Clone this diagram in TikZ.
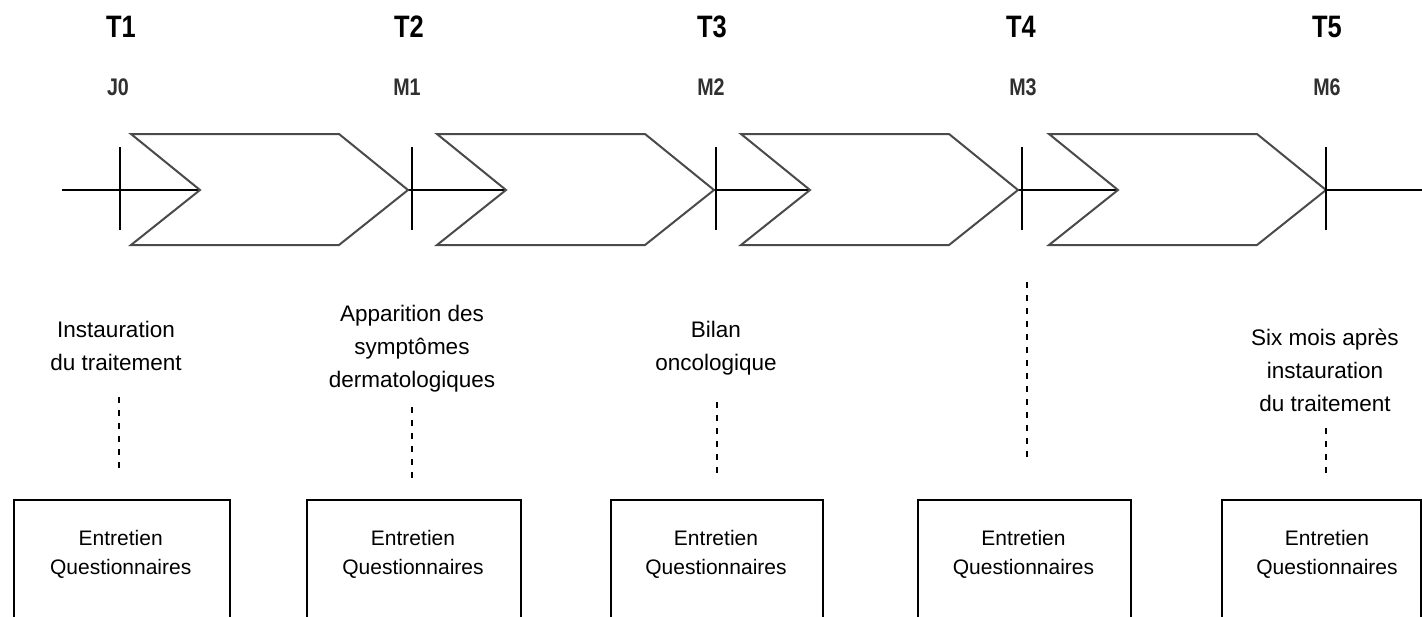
\documentclass[tikz,border=0pt]{standalone}
\usepackage{fontspec}
\setmainfont{Liberation Sans}
\usepackage{graphicx}
\definecolor{chevgray}{HTML}{4A4A4A}
\definecolor{mgray}{HTML}{303030}
\newcommand\nrw[1]{\scalebox{0.82}[1]{#1}}
\tikzset{
  mainline/.style={line width=1.3pt, draw=black},
  tickline/.style={line width=1.6pt, draw=black},
  chev/.style={draw=chevgray, line width=2pt, fill=white, line join=miter},
  chevron/.pic={\draw[chev] (0,-56) -- (208,-56) -- (277,0) -- (208,55) -- (0,55) -- (69,0) -- cycle;},
  tlabel/.style={font=\fontsize{31}{31}\selectfont\bfseries, anchor=base, inner sep=0pt},
  mlabel/.style={font=\fontsize{24}{24}\selectfont\bfseries, text=mgray, anchor=base, inner sep=0pt},
  desc/.style={font=\fontsize{22.5}{33}\selectfont, align=center, anchor=base, inner sep=0pt},
  qbox/.style={draw=black, line width=2pt, fill=white, anchor=north west, minimum height=140pt, inner sep=0pt},
  qtext/.style={font=\fontsize{21}{29}\selectfont, align=center, anchor=base, inner sep=0pt},
  dashl/.style={line width=2pt, dash pattern=on 6pt off 7pt}
}
\begin{document}
\begin{tikzpicture}[x=1pt,y=-1pt]
\useasboundingbox (0,0) rectangle (1422,616);
\clip (0,0) rectangle (1422,616);
\fill[white] (0,0) rectangle (1422,616);

% main time line
\coordinate (L) at (62,190);
\coordinate (R) at (1422,190);
\draw[mainline] (L) -- (R);

% chevrons
\pic at (131,190) {chevron};
\pic at (437,190) {chevron};
\pic at (741,190) {chevron};
\pic at (1049,190) {chevron};

% ticks
\foreach \x/\n in {120/1,412/2,716/3,1022/4,1326/5}{
  \coordinate (ta\n) at (\x,147);
  \coordinate (tb\n) at (\x,230);
  \draw[tickline] (ta\n) -- (tb\n);
}

% top labels
\node[tlabel] (T1) at (121,37) {\nrw{T1}};
\node[tlabel] (T2) at (409,37) {\nrw{T2}};
\node[tlabel] (T3) at (712,37) {\nrw{T3}};
\node[tlabel] (T4) at (1021,37) {\nrw{T4}};
\node[tlabel] (T5) at (1327,37) {\nrw{T5}};

\node[mlabel] (J0) at (118,95) {\nrw{J0}};
\node[mlabel] (M1) at (407,95) {\nrw{M1}};
\node[mlabel] (M2) at (711,95) {\nrw{M2}};
\node[mlabel] (M3) at (1023,95) {\nrw{M3}};
\node[mlabel] (M6) at (1327,95) {\nrw{M6}};

% descriptions (anchor = baseline of last line)
\node[desc] (d1) at (116,370) {Instauration\\du traitement};
\node[desc] (d2) at (412,387.5) {Apparition des\\symptômes\\dermatologiques};
\node[desc] (d3) at (716,370) {Bilan\\oncologique};
\node[desc] (d5) at (1325,411) {Six mois après\\instauration\\du traitement};

% dashed connectors
\coordinate (s1) at (119,397);  \coordinate (e1) at (119,473);
\coordinate (s2) at (412,407);  \coordinate (e2) at (412,483);
\coordinate (s3) at (716.5,402); \coordinate (e3) at (716.5,478);
\coordinate (s4) at (1026.5,282); \coordinate (e4) at (1026.5,457);
\coordinate (s5) at (1326,428); \coordinate (e5) at (1326,477);
\foreach \n in {1,...,5}{\draw[dashl] (s\n) -- (e\n);}

% boxes
\node[qbox, minimum width=216pt] (b1) at (12.7,498.5) {};
\node[qbox, minimum width=214pt] (b2) at (306,498.5) {};
\node[qbox, minimum width=212pt] (b3) at (610,498.5) {};
\node[qbox, minimum width=213pt] (b4) at (917,498.5) {};
\node[qbox, minimum width=199pt] (b5) at (1221,498.5) {};

\node[qtext] (q1) at (120.7,574) {Entretien\\Questionnaires};
\node[qtext] (q2) at (413,574) {Entretien\\Questionnaires};
\node[qtext] (q3) at (716,574) {Entretien\\Questionnaires};
\node[qtext] (q4) at (1023.5,574) {Entretien\\Questionnaires};
\node[qtext] (q5) at (1327,574) {Entretien\\Questionnaires};
\end{tikzpicture}
\end{document}
